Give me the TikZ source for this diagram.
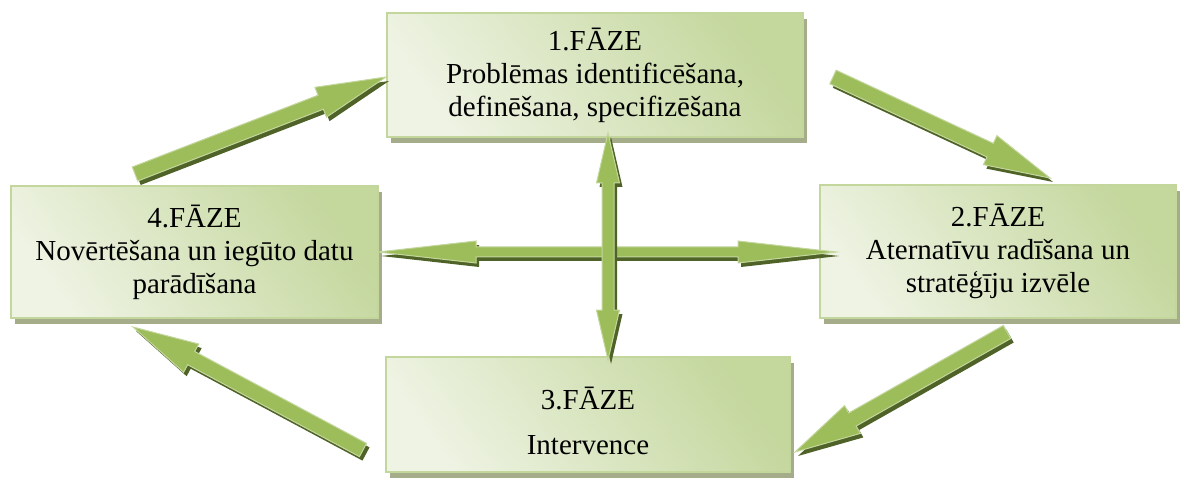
\documentclass[tikz,border=0pt]{standalone}
\usepackage{fontspec}
\setmainfont{Liberation Serif}
\usetikzlibrary{calc,shadows}

\definecolor{boxlight}{HTML}{EEF3E3}
\definecolor{boxdark}{HTML}{C4D79D}
\definecolor{boxedge}{HTML}{C3D69B}
\definecolor{boxshade}{HTML}{A4AC8A}
\definecolor{arrowfill}{HTML}{9DBD5B}
\definecolor{arrowedge}{HTML}{C3D69B}
\definecolor{arrowshade}{HTML}{4F6228}

\tikzset{
  phase/.style={draw=boxedge, line width=1.5pt, shading=axis,
    top color=boxdark, bottom color=boxlight, shading angle=-55,
    align=center, font=\fontsize{29}{33}\selectfont, inner sep=0pt,
    general shadow={fill=boxshade, draw=none, shadow xshift=4pt, shadow yshift=-6pt}},
  arrowbody/.style={fill=arrowfill, draw=arrowedge, line width=1pt, line join=miter},
  arrowshadow/.style={fill=arrowshade, transform canvas={shift={(3pt,-4pt)}}},
}

% block arrow: tail, tip, half shaft width, half head width, head length
\newcommand\singlearrow[5]{%
  \coordinate (hb) at ($(#2)!#5!(#1)$);
  \foreach \sty in {arrowshadow,arrowbody}
    \path[\sty] ($(#1)!#3!90:(#2)$) -- ($(hb)!#3!90:(#2)$) -- ($(hb)!#4!90:(#2)$)
      -- (#2) -- ($(hb)!#4!-90:(#2)$) -- ($(hb)!#3!-90:(#2)$)
      -- ($(#1)!#3!-90:(#2)$) -- cycle;
}
% block arrow with a head at both ends
\newcommand\doublearrow[5]{%
  \coordinate (hbA) at ($(#1)!#5!(#2)$);
  \coordinate (hbB) at ($(#2)!#5!(#1)$);
  \foreach \sty in {arrowshadow,arrowbody}
    \path[\sty] (#1) -- ($(hbA)!#4!90:(#2)$) -- ($(hbA)!#3!90:(#2)$)
      -- ($(hbB)!#3!90:(#2)$) -- ($(hbB)!#4!90:(#2)$) -- (#2)
      -- ($(hbB)!#4!-90:(#2)$) -- ($(hbB)!#3!-90:(#2)$)
      -- ($(hbA)!#3!-90:(#2)$) -- ($(hbA)!#4!-90:(#2)$) -- cycle;
}

\begin{document}
\begin{tikzpicture}[x=1pt, y=-1pt]
\useasboundingbox (0,0) rectangle (1181,481);

% phase boxes
\node[phase, minimum width=416pt, minimum height=124pt] (b1) at (595,75)
  {1.FĀZE\\Problēmas identificēšana,\\definēšana, specifizēšana};
\node[phase, minimum width=356pt, minimum height=133pt] (b2) at (998,251.5)
  {2.FĀZE\\Aternatīvu radīšana un\\stratēģīju izvēle};
\node[phase, minimum width=404pt, minimum height=115pt] (b3) at (588,414.5)
  {\rule{0pt}{36pt}3.FĀZE\\[12pt]Intervence};
\node[phase, minimum width=367pt, minimum height=132pt] (b4) at (194.5,252)
  {4.FĀZE\\Novērtēšana un iegūto datu\\parādīšana};

% arrow ends
\coordinate (c41a) at (135,174);  \coordinate (c41b) at (386,77);
\coordinate (c12a) at (833,77);   \coordinate (c12b) at (1050,178);
\coordinate (c23a) at (1007,332); \coordinate (c23b) at (795,452);
\coordinate (c34a) at (363,450);  \coordinate (c34b) at (133,327);
\coordinate (ha) at (378,252);    \coordinate (hz) at (836,252);
\coordinate (va) at (608,133);    \coordinate (vz) at (608,360);

% cycle of phases
\singlearrow{c41a}{c41b}{7.5pt}{16pt}{70pt}
\singlearrow{c12a}{c12b}{7.5pt}{16pt}{66pt}
\singlearrow{c23a}{c23b}{7.5pt}{16pt}{66pt}
\singlearrow{c34a}{c34b}{7.5pt}{16pt}{66pt}

% cross links through the centre
\doublearrow{ha}{hz}{5pt}{11pt}{98pt}
\doublearrow{va}{vz}{6pt}{11.5pt}{50pt}
\end{tikzpicture}
\end{document}
